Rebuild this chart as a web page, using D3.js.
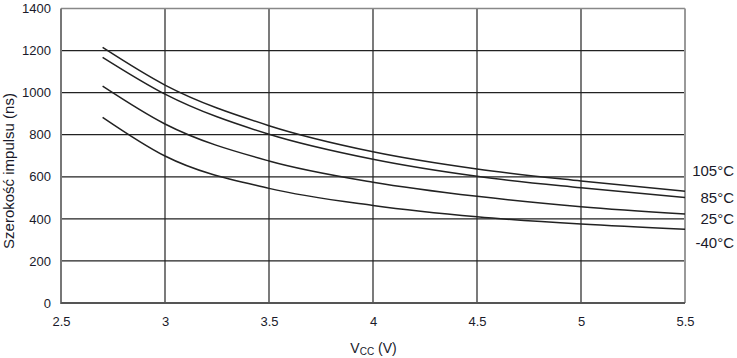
<!DOCTYPE html>
<html><head><meta charset="utf-8">
<script src="https://cdn.jsdelivr.net/npm/d3@7/dist/d3.min.js"></script>
<style>body{margin:0;background:#fff}svg{display:block}text{font-family:"Liberation Sans",Arial,sans-serif;fill:#1a1a2a}</style>
</head><body><svg id="c" width="737" height="358"></svg>
<script>
const vcc = [2.7, 3.0, 3.5, 4.0, 4.5, 5.0, 5.5];
const t105 = [1215, 1036, 843, 719, 637, 580, 531];
const t85 = [1168, 993, 802, 683, 602, 548, 502];
const t25 = [1031, 851, 675, 574, 507, 458, 423];
const tm40 = [883, 699, 545, 464, 410, 375, 350];
const seriesNames = ["105°C", "85°C", "25°C", "-40°C"];
const xTicks = [2.5, 3, 3.5, 4, 4.5, 5, 5.5];
const yTicks = [0, 200, 400, 600, 800, 1000, 1200, 1400];

const svg = d3.select("#c");
const L = 61, R = 685, T = 8.5, B = 303;
const x = d3.scaleLinear().domain([2.5, 5.5]).range([L, R]);
const y = d3.scaleLinear().domain([0, 1400]).range([B, T]);

// grid
svg.append("g").selectAll("line").data(xTicks.slice(1, -1)).join("line")
  .attr("x1", d => x(d)).attr("x2", d => x(d)).attr("y1", T).attr("y2", B)
  .attr("stroke", "#222").attr("stroke-width", 1.2);
svg.append("g").selectAll("line").data(yTicks.slice(1, -1)).join("line")
  .attr("y1", d => y(d)).attr("y2", d => y(d)).attr("x1", L).attr("x2", R)
  .attr("stroke", "#222").attr("stroke-width", 1.2);

// frame
svg.append("line").attr("x1", L).attr("x2", R).attr("y1", T).attr("y2", T).attr("stroke", "#888").attr("stroke-width", 1.5);
svg.append("line").attr("x1", R).attr("x2", R).attr("y1", T).attr("y2", B).attr("stroke", "#999").attr("stroke-width", 2);
svg.append("line").attr("x1", L).attr("x2", L).attr("y1", T).attr("y2", B+1).attr("stroke", "#777").attr("stroke-width", 2);
svg.append("line").attr("x1", L).attr("x2", R).attr("y1", B).attr("y2", B).attr("stroke", "#555").attr("stroke-width", 2);

// axes
const xa = svg.append("g").attr("transform", `translate(0,${B})`)
  .call(d3.axisBottom(x).tickValues(xTicks).tickSize(0).tickPadding(14).tickFormat(d3.format("")));
xa.select(".domain").remove();
const ya = svg.append("g").attr("transform", `translate(${L},0)`)
  .call(d3.axisLeft(y).tickValues(yTicks).tickSize(0).tickPadding(10).tickFormat(d3.format("d")));
ya.select(".domain").remove();
svg.selectAll(".tick text").attr("font-size", 13).attr("fill", "#1a1a2a")
  .style("font-family", '"Liberation Sans",Arial,sans-serif');

// curves
const all = [t105, t85, t25, tm40];
const line = d3.line().x((d, i) => x(vcc[i])).y(d => y(d)).curve(d3.curveMonotoneX);
svg.append("g").selectAll("path").data(all).join("path")
  .attr("d", d => line(d)).attr("fill", "none").attr("stroke", "#222").attr("stroke-width", 1.5);

// labels
const labY = [175.5, 202.5, 223.5, 247.5];
svg.append("g").selectAll("text").data(seriesNames).join("text")
  .attr("x", 734).attr("y", (d, i) => labY[i])
  .attr("text-anchor", "end").attr("font-size", 15).text(d => d);

// axis titles
svg.append("text").attr("transform", "translate(13.5,171) rotate(-90)")
  .attr("text-anchor", "middle").attr("font-size", 15).text("Szerokość impulsu (ns)");
const xt = svg.append("text").attr("x", 373.5).attr("y", 352.5).attr("text-anchor", "middle").attr("font-size", 14);
xt.append("tspan").text("V");
xt.append("tspan").attr("font-size", 10).attr("dy", 2.5).text("CC");
xt.append("tspan").attr("dy", -2.5).text(" (V)");
</script></body></html>
